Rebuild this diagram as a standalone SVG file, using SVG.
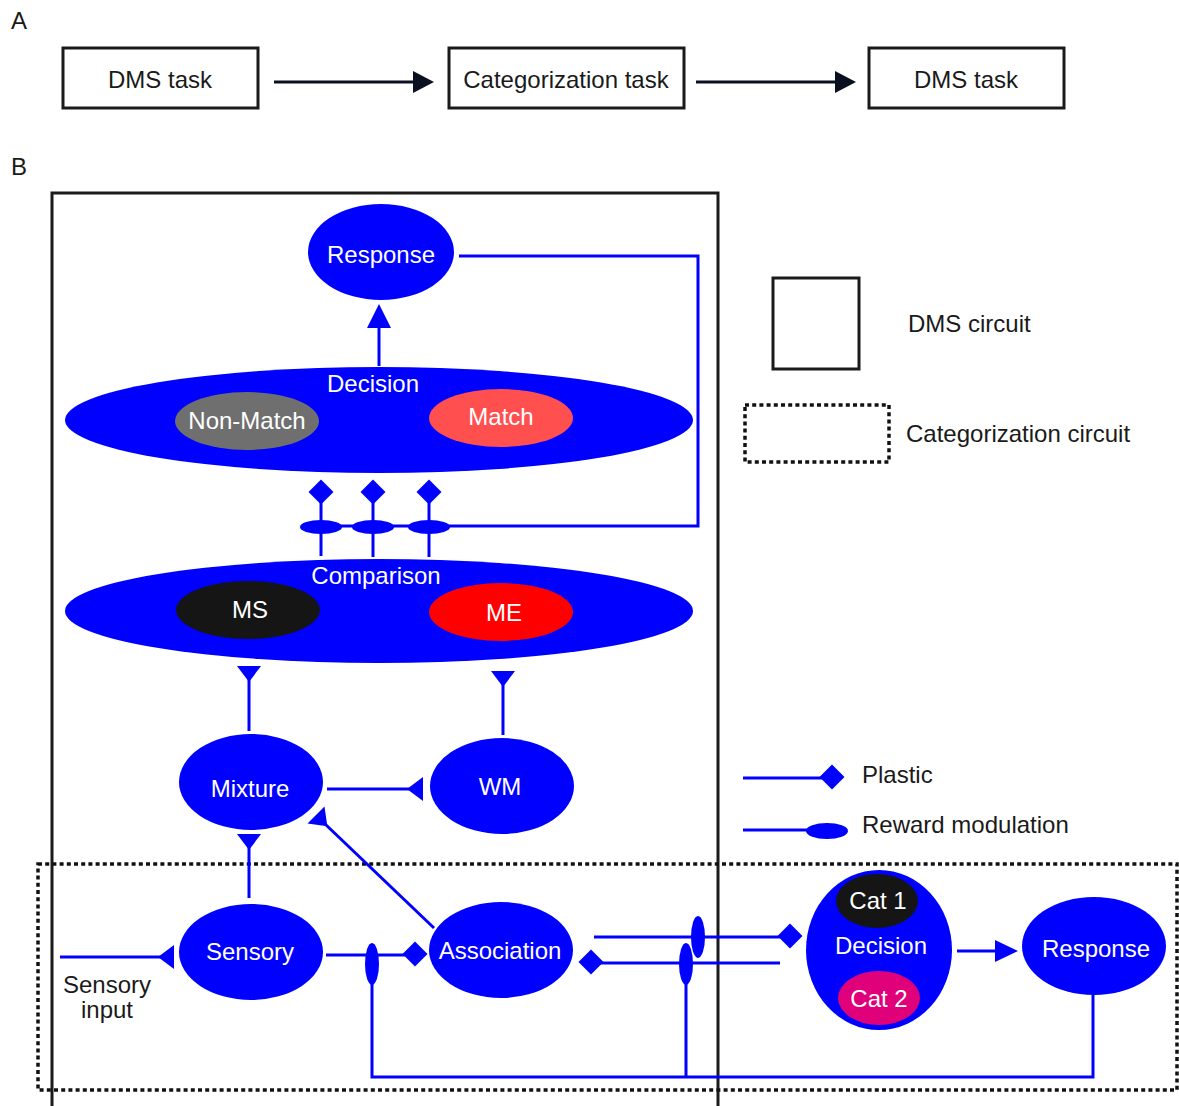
<svg xmlns="http://www.w3.org/2000/svg" xmlns:xlink="http://www.w3.org/1999/xlink" width="1179" height="1106" viewBox="0 0 1179 1106">
<style>
text{font-family:"Liberation Sans",Arial,sans-serif;font-size:24px;text-anchor:middle}
.w{fill:#ffffff}
.k{fill:#1a1a1a}
.lab{font-size:24px;text-anchor:start;fill:#1a1a1a}
.leg{text-anchor:start;fill:#1a1a1a}
.box{fill:none;stroke:#1a1a1a;stroke-width:3}
.dot{fill:none;stroke:#111111;stroke-width:3.5;stroke-dasharray:4 3.2}
.node{fill:#0000ff}
.bl{fill:none;stroke:#0000ff;stroke-width:3}
.bf{fill:#0000ff;stroke:none}
.ar{fill:none;stroke:#0a1020;stroke-width:3}
</style>
<defs>
<path id="dia" d="M0,-12.5 L12.5,0 L0,12.5 L-12.5,0 Z" fill="#0000ff"/>
<ellipse id="rewH" rx="21" ry="7" fill="#0000ff"/>
<ellipse id="rewV" rx="7" ry="21" fill="#0000ff"/>
<path id="syn" d="M-12,0 L12,0 L0,16 Z" fill="#0000ff"/>
</defs>
<rect width="1179" height="1106" fill="#ffffff"/>

<!-- Panel labels -->
<text class="lab" x="11" y="29">A</text>
<text class="lab" x="11" y="175">B</text>

<!-- Panel A -->
<g id="taskA1"><rect class="box" x="63" y="48" width="195" height="60"/><text class="k" x="160" y="88">DMS task</text></g>
<g id="taskA2"><rect class="box" x="449" y="48" width="235" height="60"/><text class="k" x="566" y="88">Categorization task</text></g>
<g id="taskA3"><rect class="box" x="869" y="48" width="195" height="60"/><text class="k" x="966" y="88">DMS task</text></g>
<g id="arrowsA">
<line class="ar" x1="274" y1="82" x2="416" y2="82"/><path d="M413,71 L434,82 L413,93 Z" fill="#0a1020"/>
<line class="ar" x1="696" y1="82" x2="838" y2="82"/><path d="M835,71 L856,82 L835,93 Z" fill="#0a1020"/>
</g>

<!-- Circuit frames -->
<g id="dmsCircuit"><path class="box" d="M52,1106 L52,193 L718,193 L718,1106"/></g>
<g id="catCircuit"><rect class="dot" x="38" y="864" width="1139" height="226"/></g>

<!-- Legend -->
<g id="legend">
<rect class="box" x="773" y="278" width="86" height="91"/>
<text class="leg" x="908" y="332">DMS circuit</text>
<rect class="dot" x="745" y="405" width="144" height="57"/>
<text class="leg" x="906" y="442">Categorization circuit</text>
<line class="bl" x1="743" y1="778" x2="822" y2="778"/><use xlink:href="#dia" x="832" y="777"/>
<text class="leg" x="862" y="783">Plastic</text>
<line class="bl" x1="743" y1="830" x2="812" y2="830"/><ellipse cx="827" cy="831" rx="21" ry="8" fill="#0000ff"/>
<text class="leg" x="862" y="833">Reward modulation</text>
</g>

<!-- Connectors -->
<g id="connectors">
<!-- Decision -> Response -->
<line class="bl" x1="379" y1="366" x2="379" y2="326"/><path class="bf" d="M367,328 L379,304 L391,328 Z"/>
<!-- Response feedback -->
<polyline class="bl" points="459,256 698,256 698,526 321,526"/>
<!-- Comparison -> Decision plastic, reward modulated -->
<line class="bl" x1="321" y1="500" x2="321" y2="556"/>
<line class="bl" x1="373" y1="500" x2="373" y2="557"/>
<line class="bl" x1="429" y1="500" x2="429" y2="557"/>
<use xlink:href="#dia" x="321" y="492"/><use xlink:href="#dia" x="373" y="492"/><use xlink:href="#dia" x="429" y="492"/>
<use xlink:href="#rewH" x="321" y="527"/><use xlink:href="#rewH" x="373" y="527"/><use xlink:href="#rewH" x="429" y="527"/>
<!-- Mixture -> Comparison -->
<line class="bl" x1="249" y1="731" x2="249" y2="678"/><use xlink:href="#syn" transform="translate(249,666)"/>
<!-- WM -> Comparison -->
<line class="bl" x1="503" y1="735" x2="503" y2="683"/><use xlink:href="#syn" transform="translate(503,671)"/>
<!-- Mixture - WM -->
<line class="bl" x1="327" y1="789" x2="412" y2="789"/><use xlink:href="#syn" transform="translate(423,789) rotate(90)"/>
<!-- Sensory -> Mixture -->
<line class="bl" x1="249" y1="898" x2="249" y2="846"/><use xlink:href="#syn" transform="translate(249,834)"/>
<!-- Association -> Mixture -->
<line class="bl" x1="434" y1="928" x2="324" y2="823"/><use xlink:href="#syn" transform="translate(316,815) rotate(-45)"/>
<!-- Sensory input -->
<line class="bl" x1="60" y1="957" x2="162" y2="957"/><use xlink:href="#syn" transform="translate(174,957) rotate(90)"/>
<!-- Sensory -> Association -->
<line class="bl" x1="326" y1="955" x2="405" y2="955"/><use xlink:href="#dia" x="415" y="954"/>
<use xlink:href="#rewV" x="372" y="964"/>
<!-- Association -> Cat decision -->
<line class="bl" x1="594" y1="937" x2="780" y2="937"/><use xlink:href="#dia" x="790" y="936"/>
<use xlink:href="#rewV" x="698" y="937"/>
<!-- Cat decision -> Association -->
<line class="bl" x1="600" y1="963" x2="780" y2="963"/><use xlink:href="#dia" x="591" y="962"/>
<use xlink:href="#rewV" x="686" y="964"/>
<!-- Reward feedback loop -->
<polyline class="bl" points="1093,995 1093,1077 372,1077 372,975"/>
<line class="bl" x1="686" y1="975" x2="686" y2="1077"/>
<!-- Cat decision -> Response -->
<line class="bl" x1="957" y1="951" x2="998" y2="951"/><path class="bf" d="M995,940 L1018,951 L995,962 Z"/>
</g>

<!-- Nodes -->
<g id="response"><ellipse class="node" cx="381" cy="252" rx="73" ry="48"/><text class="w" x="381" y="263">Response</text></g>
<g id="decision">
<ellipse class="node" cx="379" cy="420" rx="314" ry="53"/>
<text class="w" x="373" y="392">Decision</text>
<ellipse cx="247" cy="421" rx="72" ry="29" fill="#6f6f6f"/><text class="w" x="247" y="429">Non-Match</text>
<ellipse cx="501" cy="418" rx="72" ry="29" fill="#ff4f4f"/><text class="w" x="501" y="425">Match</text>
</g>
<g id="comparison">
<ellipse class="node" cx="379" cy="611" rx="314" ry="52"/>
<text class="w" x="376" y="584">Comparison</text>
<ellipse cx="248" cy="610" rx="72" ry="29" fill="#151515"/><text class="w" x="250" y="618">MS</text>
<ellipse cx="501" cy="612" rx="72" ry="29" fill="#ff0000"/><text class="w" x="504" y="621">ME</text>
</g>
<g id="mixture"><ellipse class="node" cx="251" cy="782" rx="72" ry="48"/><text class="w" x="250" y="797">Mixture</text></g>
<g id="wm"><ellipse class="node" cx="502" cy="786" rx="72" ry="48"/><text class="w" x="500" y="795">WM</text></g>
<g id="sensory"><ellipse class="node" cx="251" cy="952" rx="72" ry="48"/><text class="w" x="250" y="960">Sensory</text></g>
<g id="sensoryInput"><text class="k" x="107" y="993">Sensory</text><text class="k" x="107" y="1018">input</text></g>
<g id="association"><ellipse class="node" cx="501" cy="950" rx="72" ry="48"/><text class="w" x="500" y="959">Association</text></g>
<g id="catDecision">
<ellipse class="node" cx="879" cy="950" rx="73" ry="80"/>
<ellipse cx="877" cy="901" rx="41" ry="27" fill="#151515"/><text class="w" x="878" y="909">Cat 1</text>
<text class="w" x="881" y="954">Decision</text>
<ellipse cx="879" cy="998" rx="41" ry="27" fill="#e0007a"/><text class="w" x="879" y="1007">Cat 2</text>
</g>
<g id="catResponse"><ellipse class="node" cx="1094" cy="946" rx="72" ry="49"/><text class="w" x="1096" y="957">Response</text></g>
</svg>
